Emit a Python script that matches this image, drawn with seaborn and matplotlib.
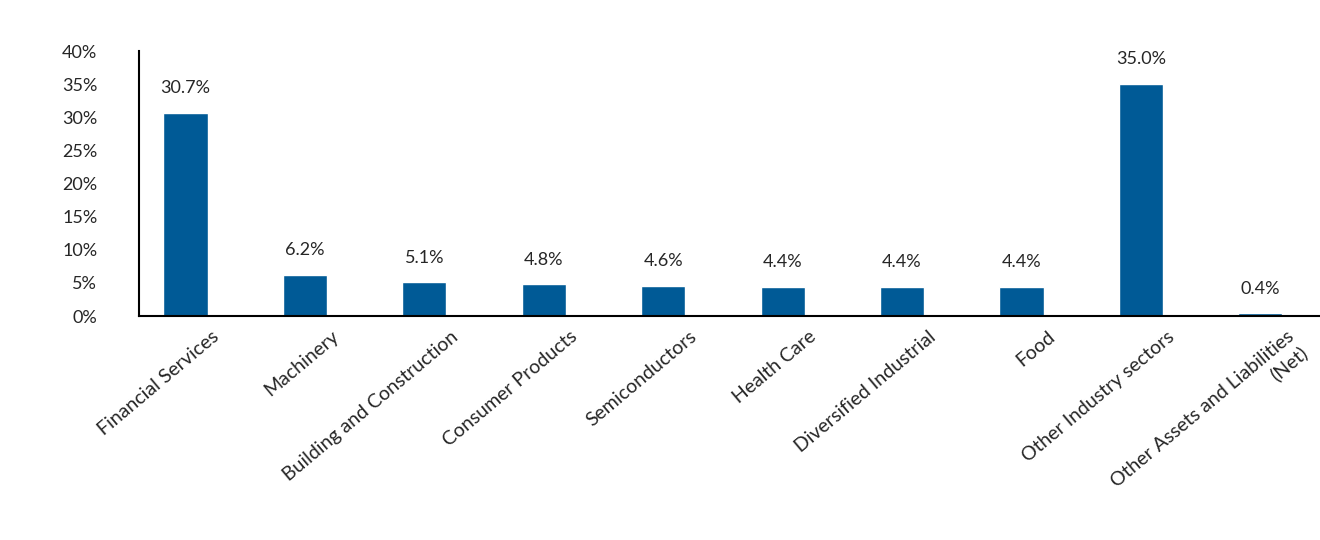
import matplotlib
matplotlib.use("Agg")
import matplotlib.pyplot as plt
import matplotlib.transforms as mtransforms
import seaborn as sns
import pandas as pd

categories = ["Financial Services", "Machinery", "Building and Construction",
              "Consumer Products", "Semiconductors", "Health Care",
              "Diversified Industrial", "Food", "Other Industry sectors",
              "Other Assets and Liabilities\n(Net)"]
values = [30.7, 6.2, 5.1, 4.8, 4.6, 4.4, 4.4, 4.4, 35.0, 0.4]
yticks = [0, 5, 10, 15, 20, 25, 30, 35, 40]

sns.set_theme(style="white")
plt.rcParams['font.family'] = ['Lato', 'DejaVu Sans']

df = pd.DataFrame({"cat": categories, "val": values})
fig = plt.figure(figsize=(13.2, 5.4), dpi=100)
ax = fig.add_axes([0.1053, 0.4148, 0.8947, 0.4907])
sns.barplot(data=df, x="cat", y="val", color="#005A96", saturation=1,
            width=0.37, ax=ax)
ax.set_xlim(-0.39, 9.5)
ax.set_ylim(0, 40)
ax.set_yticks(yticks)
ax.set_yticklabels([f"{t}%" for t in yticks], fontsize=13)
ax.tick_params(axis='y', length=0, pad=30)
ax.tick_params(axis='x', length=0, pad=7)
ax.set_xlabel("")
ax.set_ylabel("")
ax.set_xticks(range(len(categories)))
ax.set_xticklabels(categories, rotation=40, ha='right', rotation_mode='anchor',
                   fontsize=14, multialignment='right')
offset = mtransforms.ScaledTranslation(26 / 100, -2 / 100, fig.dpi_scale_trans)
for lbl in ax.get_xticklabels():
    lbl.set_transform(lbl.get_transform() + offset)
for sp in ["top", "right"]:
    ax.spines[sp].set_visible(False)
for sp in ["left", "bottom"]:
    ax.spines[sp].set_color("black")
    ax.spines[sp].set_linewidth(1.5)
for i, v in enumerate(values):
    ax.annotate(f"{v:.1f}%", (i, v), xytext=(0, 12), textcoords="offset points",
                ha="center", va="bottom", fontsize=13)
fig.savefig("out.png", dpi=100)
